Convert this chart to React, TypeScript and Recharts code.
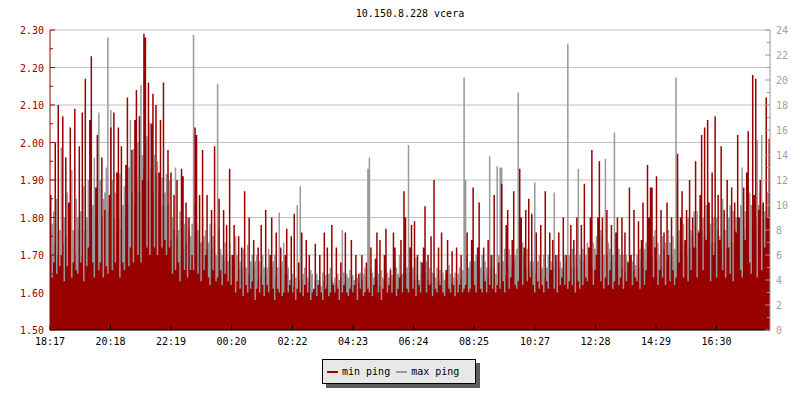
import { ComposedChart, Area, XAxis, YAxis, CartesianGrid } from 'recharts'

// min ping, ms (left axis), one value every 3 minutes from 18:17
const minPing = [
  1.86, 1.64, 1.68, 2.0, 1.65, 2.1, 1.67, 1.7, 2.07, 1.63,
  1.96, 1.67, 1.84, 2.04, 1.64, 1.68, 2.09, 1.66, 1.65, 1.99,
  1.68, 2.08, 1.63, 2.17, 1.67, 1.72, 2.06, 2.23, 1.68, 1.64,
  1.88, 2.02, 1.66, 1.68, 1.96, 1.64, 1.82, 1.67, 1.65, 1.86,
  2.04, 1.66, 2.08, 1.68, 1.92, 2.04, 1.64, 1.99, 1.68, 1.66,
  1.94, 2.12, 1.67, 1.72, 1.98, 1.68, 2.06, 2.14, 1.7, 2.07,
  1.68, 1.9, 2.29, 2.28, 1.72, 2.16, 1.7, 2.05, 2.13, 1.72,
  2.1, 1.7, 1.92, 2.06, 1.72, 2.16, 1.74, 1.7, 1.98, 1.72,
  1.92, 1.65, 1.86, 1.66, 1.9, 1.68, 1.63, 1.93, 1.91, 1.66,
  1.84, 1.64, 1.8, 1.66, 1.7, 1.66, 2.04, 2.02, 1.65, 1.86,
  1.63, 1.98, 1.66, 1.7, 1.86, 1.64, 1.62, 1.82, 1.66, 1.99,
  1.63, 1.64, 1.85, 1.66, 1.62, 1.82, 1.65, 1.78, 1.63, 1.93,
  1.62, 1.7, 1.78, 1.6, 1.63, 1.75, 1.61, 1.72, 1.59, 1.87,
  1.62, 1.6, 1.8, 1.61, 1.63, 1.74, 1.58, 1.61, 1.72, 1.6,
  1.78, 1.62, 1.59, 1.82, 1.62, 1.6, 1.7, 1.8, 1.61, 1.58,
  1.76, 1.61, 1.6, 1.72, 1.59, 1.6, 1.7, 1.77, 1.6, 1.62,
  1.75, 1.6, 1.81, 1.58, 1.61, 1.68, 1.6, 1.76, 1.59, 1.62,
  1.74, 1.6, 1.7, 1.58, 1.6, 1.61, 1.73, 1.59, 1.62, 1.7,
  1.6, 1.58, 1.76, 1.61, 1.72, 1.59, 1.6, 1.78, 1.62, 1.6,
  1.72, 1.61, 1.58, 1.68, 1.6, 1.62, 1.76, 1.6, 1.59, 1.61,
  1.74, 1.6, 1.62, 1.7, 1.58, 1.65, 1.61, 1.7, 1.59, 1.6,
  1.68, 1.61, 1.6, 1.72, 1.59, 1.62, 1.69, 1.76, 1.6, 1.74,
  1.58, 1.61, 1.7, 1.77, 1.6, 1.62, 1.66, 1.6, 1.76, 1.72,
  1.59, 1.61, 1.64, 1.74, 1.6, 1.87, 1.8, 1.61, 1.6, 1.72,
  1.78, 1.61, 1.79, 1.59, 1.7, 1.62, 1.6, 1.68, 1.72, 1.83,
  1.6, 1.7, 1.62, 1.75, 1.59, 1.9, 1.61, 1.6, 1.72, 1.62,
  1.76, 1.6, 1.59, 1.66, 1.74, 1.61, 1.6, 1.71, 1.62, 1.59,
  1.72, 1.6, 1.62, 1.7, 1.6, 1.61, 1.62, 1.76, 1.6, 1.61,
  1.74, 1.88, 1.62, 1.6, 1.72, 1.84, 1.61, 1.6, 1.72, 1.63,
  1.6, 1.74, 1.62, 1.7, 1.61, 1.86, 1.6, 1.62, 1.68, 1.61,
  1.89, 1.63, 1.6, 1.78, 1.82, 1.61, 1.64, 1.74, 1.87, 1.62,
  1.61, 1.63, 1.93, 1.8, 1.62, 1.72, 1.82, 1.63, 1.85, 1.64,
  1.81, 1.62, 1.6, 1.76, 1.63, 1.61, 1.78, 1.62, 1.6, 1.87,
  1.63, 1.61, 1.76, 1.66, 1.74, 1.61, 1.7, 1.6, 1.76, 1.62,
  1.64, 1.8, 1.62, 1.7, 1.61, 1.63, 1.78, 1.62, 1.74, 1.6,
  1.8, 1.63, 1.61, 1.78, 1.62, 1.89, 1.64, 1.63, 1.72, 1.8,
  1.98, 1.62, 1.66, 1.7, 1.8, 1.95, 1.63, 1.8, 1.61, 1.64,
  1.82, 1.62, 1.66, 1.78, 1.61, 1.63, 1.76, 1.8, 1.62, 1.64,
  1.8, 1.61, 1.76, 1.63, 1.68, 1.88, 1.7, 1.62, 1.82, 1.64,
  1.63, 1.79, 1.61, 1.74, 1.84, 1.62, 1.66, 1.94, 1.8, 1.88,
  1.88, 1.64, 1.72, 1.91, 1.62, 1.66, 1.82, 1.64, 1.76, 1.62,
  1.84, 1.7, 1.63, 1.8, 1.66, 1.62, 1.64, 1.97, 1.68, 1.8,
  1.87, 1.64, 1.74, 1.82, 1.63, 1.9, 1.66, 1.8, 1.72, 1.95,
  1.64, 1.76, 1.86, 2.02, 1.66, 2.04, 1.74, 2.06, 1.84, 1.63,
  1.92, 1.7, 2.07, 1.64, 1.86, 1.74, 1.99, 1.66, 1.82, 1.64,
  1.9, 1.72, 1.65, 1.88, 1.63, 1.84, 1.76, 2.02, 1.8, 1.66,
  1.64, 1.88, 1.74, 1.92, 2.03, 1.68, 1.65, 2.18, 1.86, 2.17,
  1.64, 1.82, 1.9, 1.66, 1.84, 1.72, 2.12, 1.8, 2.01, 1.86,
]

// max ping, ms (right axis)
const maxPing = [
  6.0, 8.5, 9.5, 7.0, 10.5, 6.0, 8.0, 14.6, 7.0, 9.0,
  7.5, 11.0, 9.5, 6.5, 12.8, 8.0, 6.0, 10.5, 9.0, 8.0,
  9.5, 6.0, 11.5, 8.0, 9.0, 12.0, 7.0, 8.0, 10.0, 13.8,
  9.0, 8.5, 17.4, 12.0, 9.0, 10.5, 11.0, 13.0, 23.4, 9.5,
  17.6, 12.0, 9.0, 11.0, 8.0, 9.0, 12.5, 8.0, 10.0, 11.5,
  9.0, 10.0, 13.0, 16.8, 11.0, 14.5, 10.0, 12.0, 15.0, 11.0,
  19.6, 14.0, 13.0, 15.0, 15.5, 12.0, 16.6, 13.0, 11.0, 14.0,
  12.5, 13.5, 11.0, 10.0, 12.2, 10.0, 11.0, 12.5, 10.0, 12.0,
  7.2, 9.0, 8.0, 13.0, 7.5, 8.0, 9.5, 6.0, 6.5, 8.5,
  7.0, 9.0, 8.0, 7.5, 8.5, 23.6, 10.0, 8.5, 8.0, 7.0,
  7.0, 9.0, 7.5, 8.0, 6.5, 7.0, 8.5, 6.5, 7.5, 8.5,
  6.0, 19.7, 8.0, 6.5, 6.0, 5.5, 7.0, 6.0, 5.5, 7.0,
  6.0, 5.0, 5.5, 7.5, 6.0, 4.8, 5.5, 5.0, 6.5, 6.0,
  5.0, 6.8, 4.5, 5.5, 6.0, 5.0, 5.5, 6.0, 4.0, 5.5,
  4.5, 6.0, 5.0, 4.5, 5.0, 6.5, 5.0, 5.0, 5.5, 6.0,
  4.2, 5.0, 9.4, 5.0, 5.5, 7.0, 4.5, 4.5, 5.0, 4.0,
  4.0, 4.5, 3.5, 4.2, 10.0, 4.0, 11.5, 4.0, 4.5, 5.0,
  3.5, 4.2, 3.8, 4.8, 4.5, 3.2, 4.0, 4.5, 4.0, 3.8,
  3.5, 4.6, 4.0, 4.4, 3.6, 4.5, 5.0, 4.0, 3.8, 4.2,
  3.6, 4.5, 4.0, 4.2, 8.0, 4.6, 3.8, 4.5, 4.2, 4.8,
  3.5, 4.4, 4.0, 4.5, 4.2, 3.8, 4.6, 4.0, 4.5, 5.0,
  4.2, 12.9, 13.8, 5.0, 4.6, 4.2, 4.8, 4.0, 4.5, 3.5,
  4.8, 4.2, 4.0, 5.0, 4.6, 4.2, 5.0, 4.4, 4.0, 5.5,
  5.0, 4.5, 6.0, 4.4, 4.5, 5.0, 4.5, 5.0, 14.8, 4.6,
  4.5, 5.0, 4.0, 5.8, 4.5, 4.0, 5.5, 4.8, 4.2, 4.5,
  5.5, 4.0, 5.0, 3.8, 4.6, 4.5, 4.2, 5.0, 4.0, 4.8,
  3.5, 4.6, 4.0, 4.4, 3.6, 5.2, 4.5, 3.8, 4.2, 4.6,
  4.0, 4.5, 5.0, 4.2, 4.8, 20.2, 12.0, 6.0, 5.0, 5.5,
  5.0, 4.0, 5.5, 6.0, 4.2, 4.8, 5.0, 6.0, 4.5, 5.5,
  5.0, 4.5, 13.9, 5.0, 6.0, 5.0, 4.5, 13.1, 6.0, 13.0,
  13.0, 5.5, 6.5, 4.4, 5.0, 6.5, 6.0, 5.0, 5.5, 6.0,
  6.5, 19.0, 8.0, 6.0, 7.0, 6.0, 5.0, 6.5, 4.8, 5.5,
  5.0, 5.5, 11.8, 4.5, 5.5, 6.0, 4.8, 5.0, 6.0, 4.2,
  5.0, 6.0, 4.5, 5.5, 5.0, 11.0, 5.5, 6.0, 5.0, 5.5,
  5.0, 4.8, 6.0, 5.5, 22.9, 6.0, 5.0, 6.5, 5.0, 6.0,
  5.0, 12.9, 6.0, 5.5, 6.5, 5.5, 6.0, 7.0, 6.0, 5.0,
  5.0, 7.0, 6.5, 7.5, 6.0, 6.5, 8.0, 7.5, 6.0, 13.7,
  6.0, 7.0, 6.5, 5.5, 6.0, 15.8, 5.5, 5.0, 6.5, 6.0,
  5.0, 6.0, 4.6, 6.0, 5.5, 5.0, 6.0, 5.5, 4.8, 5.2,
  6.0, 5.0, 6.5, 5.5, 5.0, 6.5, 7.0, 5.5, 6.0, 6.0,
  6.0, 7.5, 8.0, 5.5, 7.0, 6.0, 5.0, 7.5, 6.5, 7.0,
  5.5, 8.0, 7.0, 6.0, 7.5, 6.5, 20.2, 12.0, 8.0, 7.0,
  6.0, 8.5, 7.0, 6.0, 9.0, 6.5, 8.0, 7.5, 9.5, 6.5,
  9.5, 8.0, 7.5, 8.0, 9.0, 7.5, 10.0, 6.0, 8.0, 8.5,
  7.0, 9.0, 7.0, 9.0, 8.0, 7.5, 6.5, 10.5, 8.0, 8.0,
  6.5, 9.0, 10.0, 7.0, 9.5, 8.0, 9.0, 8.0, 7.5, 10.0,
  13.0, 8.0, 9.5, 8.5, 9.5, 11.0, 10.0, 8.0, 10.5, 9.0,
  15.2, 10.0, 11.0, 15.6, 10.0, 9.5, 9.0, 11.0, 10.0, 12.0,
]

// x ticks: minutes after 18:17 and their labels
const timeTicks = [0, 121, 242, 363, 485, 606, 727, 848, 970, 1091, 1212, 1333]
const timeLabels = ['18:17', '20:18', '22:19', '00:20', '02:22', '04:23', '06:24', '08:25', '10:27', '12:28', '14:29', '16:30']

const leftMajor = [1.5, 1.6, 1.7, 1.8, 1.9, 2.0, 2.1, 2.2, 2.3]
const leftMinor = [1.55, 1.65, 1.75, 1.85, 1.95, 2.05, 2.15, 2.25]
const rightTicks = [0, 1, 2, 3, 4, 5, 6, 7, 8, 9, 10, 11, 12, 13, 14, 15, 16, 17, 18, 19, 20, 21, 22, 23, 24]

const RED = '#990000'
const GRAY = '#999999'
const FONT = '"DejaVu Sans Mono", monospace'

const data = minPing.map((v, i) => ({
  t: (i * 1440) / (minPing.length - 1),
  min: v,
  max: maxPing[i],
}))

const isMajor = (v: number) => leftMajor.some((m) => Math.abs(m - v) < 1e-6)

function LeftTick(props: any) {
  const { x, y, payload } = props
  const major = isMajor(payload.value)
  return (
    <g>
      <line x1={x + 6} x2={x + 6 + (major ? 5 : 3)} y1={y} y2={y} stroke={RED} />
      {major && (
        <text x={x} y={y} dy={4} textAnchor="end" fill={RED} fontSize={10} fontFamily={FONT}>
          {payload.value.toFixed(2)}
        </text>
      )}
    </g>
  )
}

function RightTick(props: any) {
  const { x, y, payload } = props
  const major = payload.value % 2 === 0
  return (
    <g>
      <line x1={x - 6} x2={x - 6 - (major ? 5 : 3)} y1={y} y2={y} stroke={GRAY} />
      {major && (
        <text x={x} y={y} dy={4} textAnchor="start" fill="#a0a0a0" fontSize={10} fontFamily={FONT}>
          {payload.value}
        </text>
      )}
    </g>
  )
}

const swatch = (color: string, ml: number) => (
  <span style={{ display: 'inline-block', width: 11, height: 2, background: color, marginLeft: ml, marginRight: 4 }} />
)

export default function App() {
  return (
    <div style={{ position: 'relative', width: 800, height: 400, background: '#fff' }}>
      <style>{'body{margin:0}'}</style>
      <div
        style={{
          position: 'absolute',
          left: 50,
          top: 8,
          width: 720,
          textAlign: 'center',
          fontFamily: FONT,
          fontSize: 10,
          lineHeight: '12px',
          color: '#000',
        }}
      >
        10.150.8.228 vcera
      </div>
      <ComposedChart width={800} height={400} data={data} margin={{ top: 30, right: 0, bottom: 40, left: 0 }}>
        <CartesianGrid yAxisId="left" vertical={false} horizontalValues={leftMajor} stroke="#c0c0c0" />
        <XAxis
          dataKey="t"
          type="number"
          domain={[0, 1440]}
          ticks={timeTicks}
          interval={0}
          tickFormatter={(v: number) => timeLabels[timeTicks.indexOf(v)]}
          height={30}
          tickSize={-5}
          tickMargin={13}
          axisLine={{ stroke: '#000' }}
          tickLine={{ stroke: '#000' }}
          tick={{ fill: '#000', fontSize: 10, fontFamily: FONT }}
        />
        <YAxis
          yAxisId="left"
          orientation="left"
          width={50}
          type="number"
          domain={[1.5, 2.3]}
          allowDataOverflow
          ticks={[...leftMajor, ...leftMinor].sort((a, b) => a - b)}
          interval={0}
          tickSize={0}
          tickMargin={6}
          tickLine={false}
          axisLine={{ stroke: RED }}
          tick={<LeftTick />}
        />
        <YAxis
          yAxisId="right"
          orientation="right"
          width={30}
          type="number"
          domain={[0, 24]}
          allowDataOverflow
          ticks={rightTicks}
          interval={0}
          tickSize={0}
          tickMargin={6}
          tickLine={false}
          axisLine={{ stroke: GRAY }}
          tick={<RightTick />}
        />
        <Area
          yAxisId="right"
          dataKey="max"
          type="stepAfter"
          stroke="none"
          fill={GRAY}
          fillOpacity={1}
          dot={false}
          activeDot={false}
          isAnimationActive={false}
        />
        <Area
          yAxisId="left"
          dataKey="min"
          type="stepAfter"
          stroke="none"
          fill={RED}
          fillOpacity={1}
          dot={false}
          activeDot={false}
          isAnimationActive={false}
        />
      </ComposedChart>
      <div
        style={{
          position: 'absolute',
          left: 322,
          top: 359,
          width: 154,
          height: 25,
          boxSizing: 'border-box',
          border: '1px solid #000',
          background: '#e8e8e8',
          boxShadow: '4px 4px 0 #5c5c5c',
          display: 'flex',
          alignItems: 'center',
          fontFamily: FONT,
          fontSize: 10,
          color: '#000',
          whiteSpace: 'nowrap',
        }}
      >
        {swatch(RED, 4)}
        <span>min ping</span>
        {swatch(GRAY, 6)}
        <span>max ping</span>
      </div>
    </div>
  )
}
